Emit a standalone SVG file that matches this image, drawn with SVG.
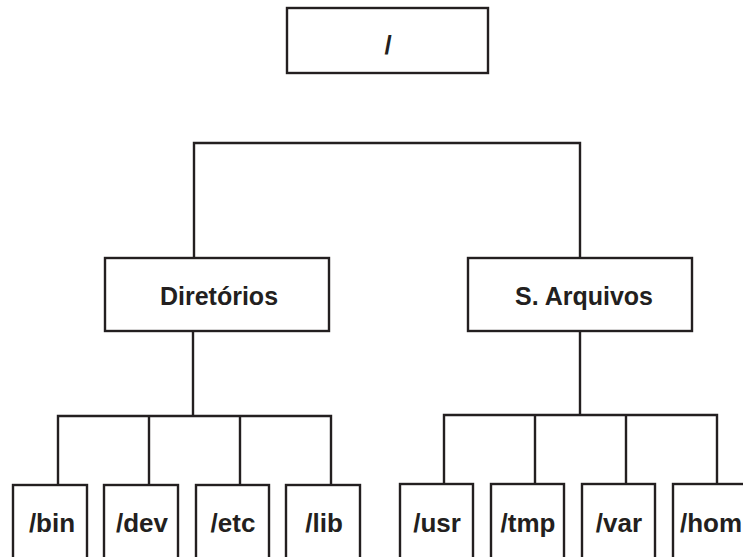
<svg xmlns="http://www.w3.org/2000/svg" width="743" height="557" viewBox="0 0 743 557">
  <style>
    .box { fill: #ffffff; stroke: #231f20; stroke-width: 2.4; }
    .wire { fill: none; stroke: #231f20; stroke-width: 2.4; stroke-linejoin: miter; }
    .lbl { font-family: "Liberation Sans", Arial, sans-serif; font-weight: bold; font-size: 25px; fill: #231f20; text-anchor: middle; }
    .leaf { font-size: 26px; }
  </style>
  <rect width="743" height="557" fill="#ffffff"/>

  <!-- connectors -->
  <g id="connectors" class="wire">
    <path d="M194 258 V143 H580 V258"/>
    <path d="M193 331 V416"/>
    <path d="M58 485 V416 H331 V485 M149 416 V485 M240 416 V485"/>
    <path d="M580 331 V415"/>
    <path d="M444 484 V415 H717 V484 M535 415 V484 M626 415 V484"/>
  </g>

  <!-- root -->
  <g id="root">
    <rect class="box" x="287" y="8" width="201" height="65"/>
    <text class="lbl leaf" x="388" y="54">/</text>
  </g>

  <!-- second level -->
  <g id="diretorios">
    <rect class="box" x="105" y="258" width="224" height="73"/>
    <text class="lbl" x="219" y="305">Diretórios</text>
  </g>
  <g id="sarquivos">
    <rect class="box" x="468" y="258" width="224" height="73"/>
    <text class="lbl" x="584" y="305">S. Arquivos</text>
  </g>

  <!-- leaves -->
  <g id="bin">
    <rect class="box" x="13" y="485" width="74" height="90"/>
    <text class="lbl leaf" x="52" y="532">/bin</text>
  </g>
  <g id="dev">
    <rect class="box" x="104" y="485" width="74" height="90"/>
    <text class="lbl leaf" x="142" y="532">/dev</text>
  </g>
  <g id="etc">
    <rect class="box" x="196" y="485" width="73" height="90"/>
    <text class="lbl leaf" x="233" y="532">/etc</text>
  </g>
  <g id="lib">
    <rect class="box" x="286" y="485" width="74" height="90"/>
    <text class="lbl leaf" x="324" y="532">/lib</text>
  </g>
  <g id="usr">
    <rect class="box" x="400" y="484" width="73" height="90"/>
    <text class="lbl leaf" x="437" y="532">/usr</text>
  </g>
  <g id="tmp">
    <rect class="box" x="491" y="484" width="73" height="90"/>
    <text class="lbl leaf" x="528" y="532">/tmp</text>
  </g>
  <g id="var">
    <rect class="box" x="582" y="484" width="73" height="90"/>
    <text class="lbl leaf" x="619" y="532">/var</text>
  </g>
  <g id="hom">
    <rect class="box" x="673" y="484" width="80" height="90"/>
    <text class="lbl leaf" x="680" y="532" style="text-anchor:start">/hom</text>
  </g>
</svg>
